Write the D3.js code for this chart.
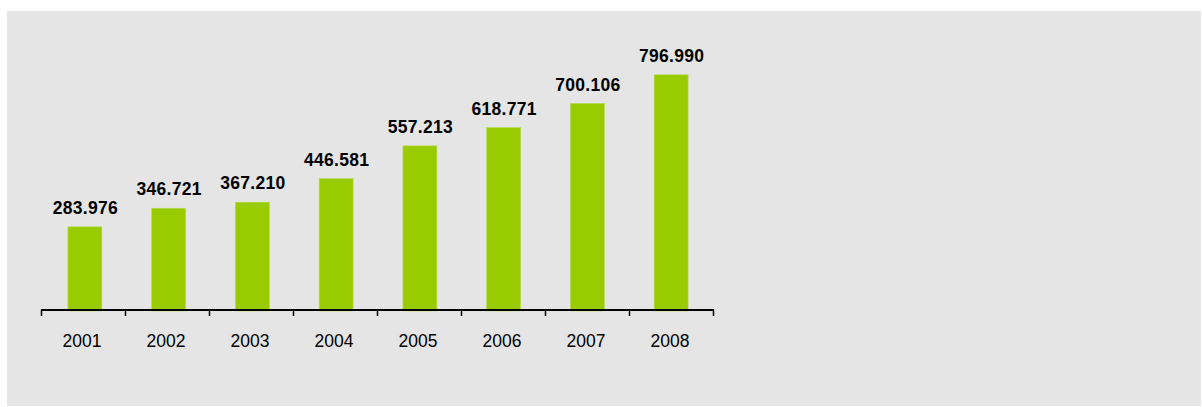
<!DOCTYPE html>
<html>
<head>
<meta charset="utf-8">
<script src="https://cdn.jsdelivr.net/npm/d3@7"></script>
<style>
  body { margin: 0; background: #ffffff; }
  svg { display: block; }
</style>
</head>
<body>
<svg id="chart"></svg>
<script>
var svgWidth = 1202;
var svgHeight = 407;

// data
var years = ["2001", "2002", "2003", "2004", "2005", "2006", "2007", "2008"];
var values = [283.976, 346.721, 367.210, 446.581, 557.213, 618.771, 700.106, 796.990];
var valueLabels = ["283.976", "346.721", "367.210", "446.581", "557.213", "618.771", "700.106", "796.990"];

var svg = d3.select("#chart")
  .attr("width", svgWidth)
  .attr("height", svgHeight);

// grey panel
svg.append("rect")
  .attr("x", 7)
  .attr("y", 11)
  .attr("width", 1194)
  .attr("height", 395)
  .attr("fill", "#e5e5e5");

var x = d3.scaleBand()
  .domain(years)
  .range([43, 713])
  .paddingInner(0.595)
  .paddingOuter(0.2975);

// axis ticks sit on category boundaries
var xTick = d3.scaleLinear()
  .domain([0, years.length])
  .range([41, 713]);

var y = d3.scaleLinear()
  .domain([0, 900])
  .range([311, 44.3]);

// bars
svg.append("g")
  .selectAll("rect")
  .data(years)
  .join("rect")
    .attr("x", d => x(d))
    .attr("y", (d, i) => y(values[i]))
    .attr("width", x.bandwidth())
    .attr("height", (d, i) => y(0) - y(values[i]))
    .attr("fill", "#99cc00")
    .attr("stroke", "#b3d94d")
    .attr("stroke-width", 0.6);

// value labels
svg.append("g")
  .selectAll("text")
  .data(years)
  .join("text")
    .attr("x", d => x(d) + x.bandwidth() / 2 + 0.5)
    .attr("y", (d, i) => y(values[i]) - 13)
    .attr("text-anchor", "middle")
    .attr("font-family", "Liberation Sans, Arial, sans-serif")
    .attr("font-size", 17.5)
    .attr("font-weight", "bold")
    .attr("letter-spacing", 0.3)
    .attr("fill", "#000")
    .text((d, i) => valueLabels[i]);

// x axis
var axis = svg.append("g");
axis.append("line")
  .attr("x1", 41)
  .attr("x2", 714)
  .attr("y1", 310)
  .attr("y2", 310)
  .attr("stroke", "#000")
  .attr("stroke-width", 2);

axis.selectAll("line.tick")
  .data(d3.range(years.length + 1))
  .join("line")
    .attr("class", "tick")
    .attr("x1", d => xTick(d) + 0.5)
    .attr("x2", d => xTick(d) + 0.5)
    .attr("y1", 310)
    .attr("y2", 316)
    .attr("stroke", "#000")
    .attr("stroke-width", 1.5);

axis.selectAll("text")
  .data(years)
  .join("text")
    .attr("transform", (d, i) => "translate(" + (xTick(i + 0.5) - 1) + ",347) scale(1,1.1)")
    .attr("text-anchor", "middle")
    .attr("font-family", "Liberation Sans, Arial, sans-serif")
    .attr("font-size", 17.5)
    .attr("fill", "#000")
    .text(d => d);
</script>
</body>
</html>
